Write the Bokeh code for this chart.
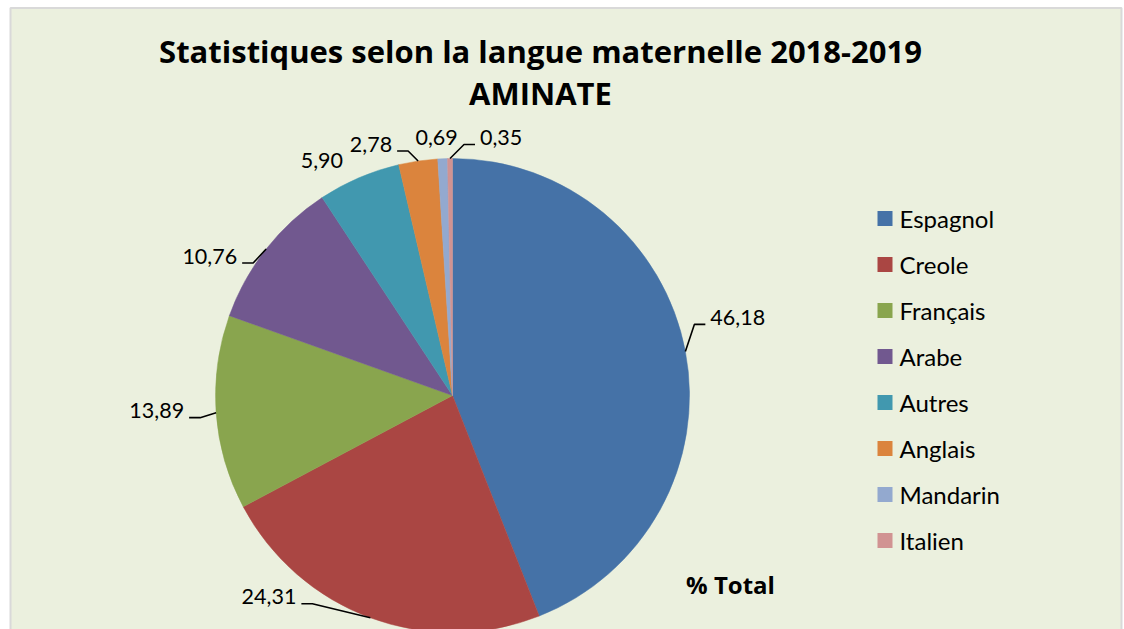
import math
from bokeh.plotting import figure
from bokeh.models import Range1d, ColumnDataSource
from bokeh.core.properties import value
from bokeh.embed import file_html
from bokeh.resources import INLINE

# ---- data ----
categories = ["Espagnol", "Creole", "Français", "Arabe", "Autres", "Anglais", "Mandarin", "Italien"]
values = [46.18, 24.31, 13.89, 10.76, 5.90, 2.78, 0.69, 0.35]
value_labels = ["46,18", "24,31", "13,89", "10,76", "5,90", "2,78", "0,69", "0,35"]
colors = ["#4572A7", "#AA4643", "#89A54E", "#71588F", "#4198AF", "#DB843D", "#93A9CF", "#D19392"]
title_lines = ["Statistiques selon la langue maternelle 2018-2019", "AMINATE"]
series_name = "% Total"

# ---- layout (pixels, y = -screen_y) ----
W, H = 1124, 629
BG = "#EBF0DE"
FONT = "Lato"
cx, cy, R = 452, -395, 237
# label placement relative to the arc point at each slice's mid-angle:
# (knee dx, knee dy, side) for leader lines, or None with a direct text offset
leaders = [(9, 27, 1), (-58, 14, -1), (-16, -5, -1), (-13, -14, -1), None, (-10, 10, -1), None, (14, 14, 1)]
direct = {4: (-16, 17, "right"), 6: (-6, 21, "center")}

p = figure(width=W, height=H, x_range=Range1d(0, W), y_range=Range1d(-H, 0),
           output_backend="svg", toolbar_location=None, min_border=0,
           background_fill_color="white", border_fill_color="white", outline_line_color=None)
p.axis.visible = False
p.grid.visible = False

# chart panel
p.quad(left=[10], right=[1121], top=[-7.5], bottom=[-H - 20], fill_color=BG,
       line_color="#D9D9D9", line_width=2)

total = sum(values)
starts, ends, mids = [], [], []
acc = 0.0
for v in values:
    a0 = acc / total * 2 * math.pi
    acc += v
    a1 = acc / total * 2 * math.pi
    starts.append(math.pi / 2 - a1)
    ends.append(math.pi / 2 - a0)
    mids.append((a0 + a1) / 2)

src = ColumnDataSource(dict(start=starts, end=ends, color=colors, cat=categories))
p.wedge(x=cx, y=cy, radius=R, start_angle="start", end_angle="end", direction="anticlock",
        fill_color="color", line_color="color", line_width=0.5, source=src)

# data labels with leader lines
lx, ly, lt, la = [], [], [], []
for i, m in enumerate(mids):
    px = cx + R * math.sin(m)
    py = cy + R * math.cos(m)
    if leaders[i] is not None:
        kdx, kdy, side = leaders[i]
        kx, ky = px + kdx, py + kdy
        ex = kx + 11 * side
        p.line([px, kx, ex], [py, ky, ky], line_color="black", line_width=1.6)
        tx = ex + 5 * side
        ty = ky + 7
        align = "left" if side > 0 else "right"
    else:
        dx, dy, align = direct[i]
        tx, ty = px + dx, py + dy
    lx.append(tx); ly.append(ty); lt.append(value_labels[i]); la.append(align)

p.text(x=lx, y=ly, text=lt, text_align=la, text_baseline="middle",
       text_font=value(FONT), text_font_size="21.5px", text_color="black")

# title
p.text(x=[540, 540], y=[-50, -92], text=title_lines, text_align="center", text_baseline="middle",
       text_font=value("Open Sans"), text_font_style="bold", text_font_size="31px", text_color="black")

# series name
p.text(x=[730], y=[-584], text=[series_name], text_align="center", text_baseline="middle",
       text_font=value("Open Sans"), text_font_style="bold", text_font_size="24px", text_color="black")

# legend
leg_y0, leg_dy = -218, -46
ys = [leg_y0 + k * leg_dy for k in range(len(categories))]
p.rect(x=[884.5] * len(categories), y=ys, width=15, height=15, fill_color=colors, line_color=None)
p.text(x=[899] * len(categories), y=ys, text=categories, text_align="left", text_baseline="middle",
       text_font=value(FONT), text_font_size="24px", text_color="black")

open("out.html", "w").write(file_html(p, INLINE))
